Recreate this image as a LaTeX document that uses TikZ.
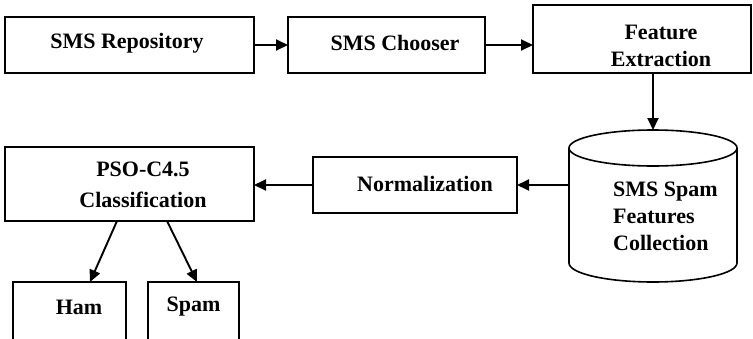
\documentclass[tikz,border=0pt]{standalone}
\usepackage{fontspec}
\setmainfont{Liberation Serif}
\usetikzlibrary{arrows.meta}
\begin{document}
\begin{tikzpicture}[x=1pt,y=-1pt,
  box/.style={draw, line width=1.6pt, inner sep=0pt, outer sep=0pt, anchor=north west},
  area/.style={inner sep=0pt, outer sep=0pt, anchor=north west},
  lbl/.style={font=\bfseries\fontsize{22}{27}\selectfont, inner sep=0pt, align=center},
  arr/.style={line width=1.9pt, -{Triangle[length=12pt,width=11pt]}}]
\clip (0,0) rectangle (753,338);

% process boxes
\node[box, minimum width=249pt, minimum height=56pt] (repo) at (5,17) {};
\node[box, minimum width=197pt, minimum height=56pt] (chooser) at (288,17) {};
\node[box, minimum width=218pt, minimum height=68pt] (fe) at (533,5) {};
\node[box, minimum width=204pt, minimum height=56pt] (norm) at (313,157) {};
\node[box, minimum width=249pt, minimum height=74pt] (pso) at (5,147) {};
\node[box, minimum width=113pt, minimum height=80pt] (ham) at (13,282) {};
\node[box, minimum width=91pt, minimum height=80pt] (spam) at (148,282) {};

% data store (cylinder)
\node[area, minimum width=168pt, minimum height=152pt] (cyl) at (569,130) {};
\draw[line width=1.6pt] (653,148) ellipse [x radius=84, y radius=18];
\draw[line width=1.6pt] (569,148) -- (569,263)
  arc[start angle=180, end angle=0, x radius=84, y radius=19] -- (737,148);

% labels
\node[lbl] (repo-t) at (127,43) {SMS Repository};
\node[lbl] (chooser-t) at (395,43) {SMS Chooser};
\node[lbl] (fe-t) at (661,46) {Feature\\Extraction};
\node[lbl, align=left, anchor=west] (cyl-t) at (613,216) {SMS Spam\\Features\\Collection};
\node[lbl] (norm-t) at (425,184) {Normalization};
\node[lbl, font=\bfseries\fontsize{22}{31}\selectfont] (pso-t) at (143,185) {PSO-C4.5\\Classification};
\node[lbl] (ham-t) at (79,307) {Ham};
\node[lbl] (spam-t) at (193.5,307) {Spam};

% connectors
\draw[arr] (repo) -- (chooser);
\draw[arr] (chooser.east) -- (chooser.east -| fe.west);
\draw[arr] (cyl.north |- fe.south) -- (cyl.north);
\draw[arr] (cyl.west |- norm.east) -- (norm.east);
\draw[arr] (norm.west) -- (norm.west -| pso.east);
\draw[arr] ([xshift=-12.5pt]pso.south) -- ([xshift=20.5pt]ham.north);
\draw[arr] ([xshift=37.5pt]pso.south) -- ([xshift=3.5pt]spam.north);
\end{tikzpicture}
\end{document}
